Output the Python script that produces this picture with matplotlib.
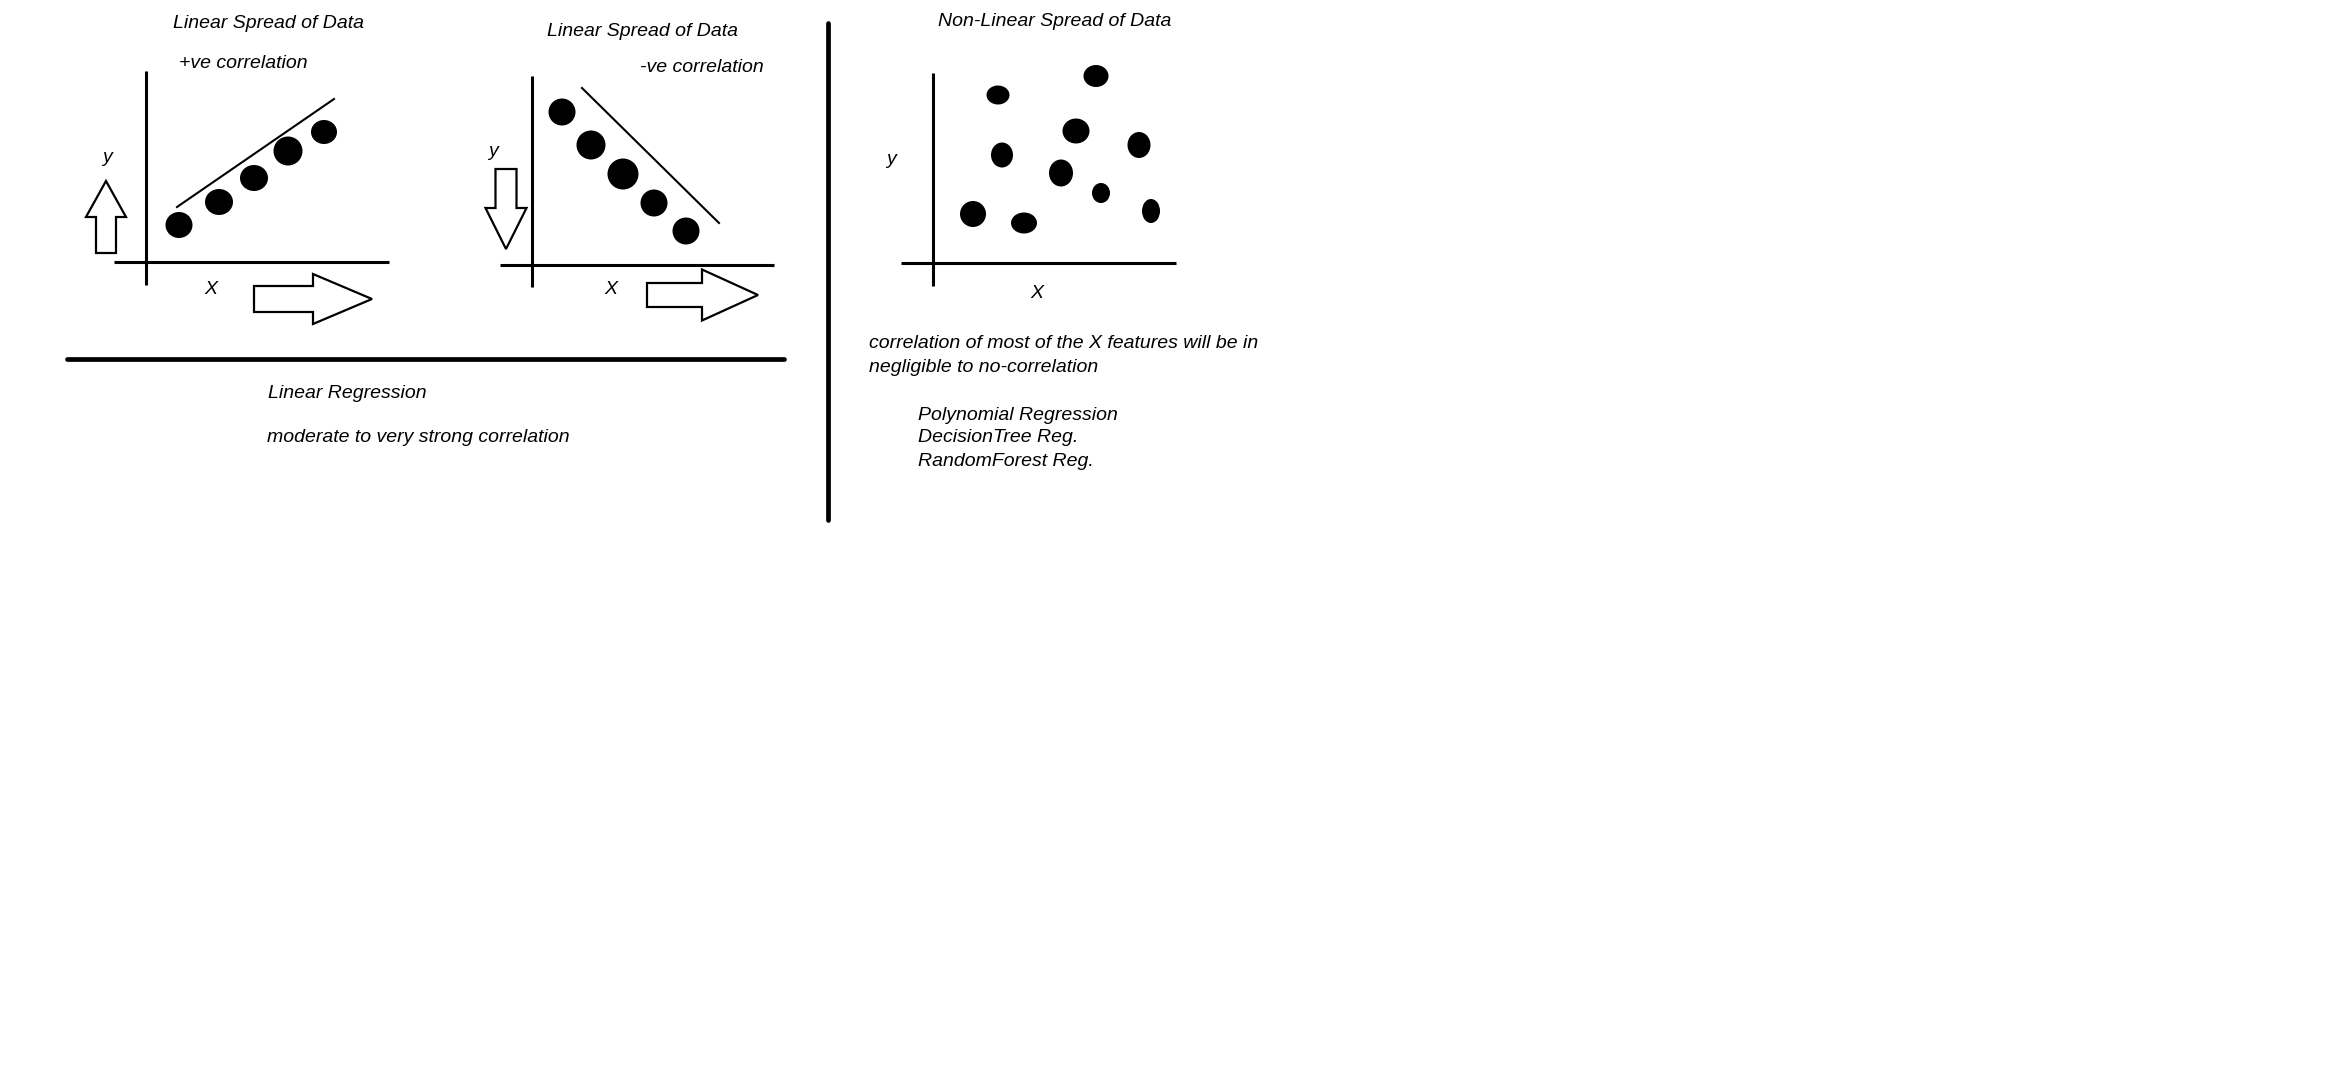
import matplotlib
matplotlib.use("Agg")
import matplotlib.pyplot as plt
from matplotlib.patches import Ellipse, Polygon

# canvas is in image pixels (origin top-left)
W, H = 2338, 1076

# panel 1: +ve correlation dots (x, y, width, height)
pos_x = [179, 219, 254, 288, 324]
pos_y = [225, 202, 178, 151, 132]
pos_w = [27, 28, 28, 29, 26]
pos_h = [26, 26, 26, 29, 24]
pos_trend = ([177, 334], [207, 99])

# panel 2: -ve correlation dots
neg_x = [562, 591, 623, 654, 686]
neg_y = [112, 145, 174, 203, 231]
neg_w = [27, 29, 31, 27, 27]
neg_h = [27, 29, 31, 27, 27]
neg_trend = ([582, 719], [88, 223])

# panel 3: non-linear scatter
nl_x = [998, 1096, 1076, 1002, 1139, 1061, 1101, 973, 1024, 1151]
nl_y = [95, 76, 131, 155, 145, 173, 193, 214, 223, 211]
nl_w = [23, 25, 27, 22, 23, 24, 18, 26, 26, 18]
nl_h = [19, 22, 25, 25, 26, 27, 20, 26, 21, 24]

FONT = dict(family=["Liberation Sans", "DejaVu Sans"], style="italic", fontsize=14, color="black")

fig = plt.figure(figsize=(W / 100, H / 100), dpi=100)
ax = fig.add_axes([0, 0, 1, 1])
ax.set_xlim(0, W)
ax.set_ylim(H, 0)
ax.axis("off")


def dots(xs, ys, ws, hs):
    for x, y, w, h in zip(xs, ys, ws, hs):
        ax.add_patch(Ellipse((x, y), w, h, color="black", lw=0))


def axes_cross(x0, x1, y_axis_x, y0, y1, x_axis_y):
    ax.plot([x0, x1], [x_axis_y, x_axis_y], color="black", lw=2.2, solid_capstyle="butt")
    ax.plot([y_axis_x, y_axis_x], [y0, y1], color="black", lw=2.2, solid_capstyle="butt")


def arrow_right(x0, xb, xt, yc, shaft_h, head_h):
    pts = [(x0, yc - shaft_h / 2), (xb, yc - shaft_h / 2), (xb, yc - head_h / 2), (xt, yc),
           (xb, yc + head_h / 2), (xb, yc + shaft_h / 2), (x0, yc + shaft_h / 2)]
    ax.add_patch(Polygon(pts, closed=True, fill=False, ec="black", lw=1.6, joinstyle="miter"))


def arrow_vert(xc, y0, yb, yt, shaft_w, head_w):
    pts = [(xc - shaft_w / 2, y0), (xc - shaft_w / 2, yb), (xc - head_w / 2, yb), (xc, yt),
           (xc + head_w / 2, yb), (xc + shaft_w / 2, yb), (xc + shaft_w / 2, y0)]
    ax.add_patch(Polygon(pts, closed=True, fill=False, ec="black", lw=1.6, joinstyle="miter"))


# ---- panel 1
ax.text(173, 23, "Linear Spread of Data", ha="left", va="center", **FONT)
ax.text(179, 63, "+ve correlation", ha="left", va="center", **FONT)
axes_cross(114, 389, 146, 71, 285, 262)
ax.plot(*pos_trend, color="black", lw=1.5)
dots(pos_x, pos_y, pos_w, pos_h)
ax.text(107, 158, "y", ha="center", va="center", **FONT)
ax.text(211, 289, "X", ha="center", va="center", **FONT)
arrow_vert(106, 253, 217, 181, 20, 40)
arrow_right(254, 313, 372, 299, 26, 50)

# ---- panel 2
ax.text(547, 31, "Linear Spread of Data", ha="left", va="center", **FONT)
ax.text(640, 67, "-ve correlation", ha="left", va="center", **FONT)
axes_cross(500, 774, 532, 76, 287, 265)
ax.plot(*neg_trend, color="black", lw=1.5)
dots(neg_x, neg_y, neg_w, neg_h)
ax.text(493, 152, "y", ha="center", va="center", **FONT)
ax.text(611, 289, "X", ha="center", va="center", **FONT)
arrow_vert(506, 169, 208, 249, 21, 41)
arrow_right(647, 702, 758, 295, 24, 51)

# separators
ax.plot([67, 784], [359, 359], color="black", lw=3.4, solid_capstyle="round")
ax.plot([828, 828], [23, 520], color="black", lw=3.4, solid_capstyle="round")

ax.text(268, 394, "Linear Regression", ha="left", va="center", **FONT)
ax.text(267, 438, "moderate to very strong correlation", ha="left", va="center", **FONT)

# ---- panel 3
ax.text(938, 22, "Non-Linear Spread of Data", ha="left", va="center", **FONT)
axes_cross(901, 1176, 933, 73, 286, 263)
dots(nl_x, nl_y, nl_w, nl_h)
ax.text(891, 160, "y", ha="center", va="center", **FONT)
ax.text(1037, 293, "X", ha="center", va="center", **FONT)

ax.text(869, 344, "correlation of most of the X features will be in", ha="left", va="center", **FONT)
ax.text(869, 368, "negligible to no-correlation", ha="left", va="center", **FONT)
ax.text(918, 416, "Polynomial Regression", ha="left", va="center", **FONT)
ax.text(918, 438, "DecisionTree Reg.", ha="left", va="center", **FONT)
ax.text(918, 461, "RandomForest Reg.", ha="left", va="center", **FONT)

fig.savefig("out.png", dpi=100, facecolor="white")
